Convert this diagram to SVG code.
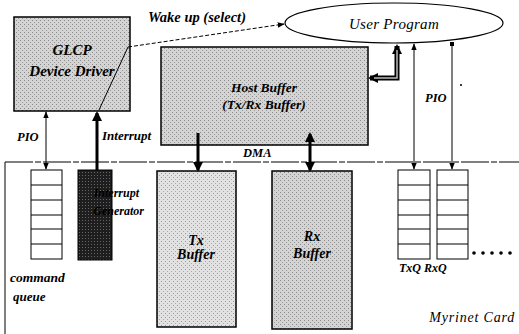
<svg xmlns="http://www.w3.org/2000/svg" width="519" height="334" viewBox="0 0 519 334">
<defs>
<marker id="ah" viewBox="0 0 10 10" refX="9" refY="5" markerWidth="7" markerHeight="7" orient="auto-start-reverse" markerUnits="userSpaceOnUse"><path d="M0,1 L10,5 L0,9 z" fill="#000"/></marker>
<marker id="ahb" viewBox="0 0 10 10" refX="8" refY="5" markerWidth="10" markerHeight="10" orient="auto-start-reverse" markerUnits="userSpaceOnUse"><path d="M0,0 L10,5 L0,10 z" fill="#000"/></marker>
<pattern id="ht" width="4" height="4" patternUnits="userSpaceOnUse"><rect width="4" height="4" fill="#d4d4d4"/><rect x="0" y="0" width="1" height="1" fill="#888"/><rect x="2" y="2" width="1" height="1" fill="#999"/></pattern>
<pattern id="htl" width="4" height="4" patternUnits="userSpaceOnUse"><rect width="4" height="4" fill="#e2e2e2"/><rect x="1" y="1" width="1" height="1" fill="#999"/><rect x="3" y="3" width="1" height="1" fill="#aaa"/></pattern>
<pattern id="htd" width="3" height="3" patternUnits="userSpaceOnUse"><rect width="3" height="3" fill="#1e1e1e"/><rect x="1" y="1" width="1" height="1" fill="#666"/></pattern>
</defs>
<style>
.box{stroke:#000;stroke-width:1.5}
.q{fill:#fff;stroke:#000;stroke-width:1}
.lbl{font-family:"Liberation Serif","Times New Roman",serif;font-weight:bold;font-style:italic;fill:#000}
.it{font-family:"Liberation Serif","Times New Roman",serif;font-style:italic;fill:#000}
.thin{stroke:#000;stroke-width:1;fill:none}
.thick{stroke:#000;stroke-width:3;fill:none}
</style>
<g id="card">
<line x1="5" y1="162" x2="519" y2="162" stroke="#000" stroke-width="1" stroke-dasharray="28 2 6 2"/>
<line x1="5" y1="162" x2="5" y2="334" stroke="#000" stroke-width="1"/>
<text class="it" x="515" y="322" font-size="14" text-anchor="end" letter-spacing="0.8">Myrinet Card</text>
</g>
<g id="driver">
<rect class="box" x="14" y="17" width="116" height="94" fill="url(#ht)"/>
<text class="lbl" x="72" y="55" font-size="15" text-anchor="middle">GLCP</text>
<text class="lbl" x="72" y="76" font-size="15" text-anchor="middle">Device Driver</text>
</g>
<g id="user">
<ellipse cx="394" cy="23" rx="109" ry="20" fill="#fff" stroke="#000" stroke-width="1.2"/>
<text class="it" x="394" y="29" font-size="15" text-anchor="middle" letter-spacing="0.3">User Program</text>
</g>
<g id="host">
<rect class="box" x="161" y="47" width="207" height="98" fill="url(#ht)"/>
<text class="lbl" x="264" y="92" font-size="13.5" text-anchor="middle">Host Buffer</text>
<text class="lbl" x="264" y="109" font-size="13.5" text-anchor="middle">(Tx/Rx Buffer)</text>
</g>
<g id="cmdq">
<rect class="q" x="31" y="170" width="31" height="89"/>
<path class="thin" d="M31,185H62M31,200H62M31,215H62M31,229H62M31,244H62"/>
<text class="lbl" x="10" y="282" font-size="13.5">command</text>
<text class="lbl" x="13" y="301" font-size="13">queue</text>
</g>
<g id="intgen">
<rect x="78" y="170" width="34" height="90" fill="url(#htd)" stroke="#000" stroke-width="1"/>
<text class="lbl" x="139" y="197" font-size="12" text-anchor="end">Interrupt</text>
<text class="lbl" x="144" y="215" font-size="12" text-anchor="end">Generator</text>
</g>
<g id="txbuf">
<rect class="box" x="157" y="171" width="79" height="156" fill="url(#htl)"/>
<text class="lbl" x="196" y="245" font-size="14" text-anchor="middle">Tx</text>
<text class="lbl" x="196" y="259" font-size="14" text-anchor="middle">Buffer</text>
</g>
<g id="rxbuf">
<rect class="box" x="272" y="171" width="80" height="158" fill="url(#ht)"/>
<text class="lbl" x="312" y="241" font-size="14" text-anchor="middle">Rx</text>
<text class="lbl" x="312" y="258" font-size="14" text-anchor="middle">Buffer</text>
</g>
<g id="txq">
<rect class="q" x="398" y="170" width="32" height="89"/>
<path class="thin" d="M398,185H430M398,200H430M398,215H430M398,229H430M398,244H430"/>
<text class="lbl" x="399" y="272" font-size="12">TxQ</text>
</g>
<g id="rxq">
<rect class="q" x="437" y="170" width="31" height="89"/>
<path class="thin" d="M437,185H468M437,200H468M437,215H468M437,229H468M437,244H468"/>
<text class="lbl" x="424" y="272" font-size="12">RxQ</text>
</g>
<g id="dots">
<circle cx="474" cy="253" r="1.8"/><circle cx="483" cy="253" r="1.8"/><circle cx="492" cy="253" r="1.8"/><circle cx="501" cy="253" r="1.8"/><circle cx="510" cy="253" r="1.8"/>
<circle cx="461" cy="85" r="1"/>
</g>
<g id="connectors">
<line class="thin" x1="46" y1="112" x2="46" y2="169" marker-start="url(#ah)" marker-end="url(#ah)"/>
<line class="thick" x1="97" y1="113" x2="97" y2="170" marker-start="url(#ahb)"/>
<polyline class="thin" points="99,110 128,47"/>
<line class="thin" x1="128" y1="47" x2="284" y2="24" stroke-dasharray="4 2" marker-end="url(#ah)"/>
<line class="thick" x1="198" y1="133" x2="198" y2="170" marker-end="url(#ahb)"/>
<line class="thick" x1="310" y1="134" x2="310" y2="170" marker-start="url(#ahb)" marker-end="url(#ahb)"/>
<polyline points="397,46 397,78 370,78" fill="none" stroke="#000" stroke-width="5" marker-start="url(#ahb)" marker-end="url(#ahb)"/>
<polyline points="397,50 397,78 374,78" fill="none" stroke="#bbb" stroke-width="1.5"/>
<line class="thin" x1="414" y1="44" x2="414" y2="169" marker-start="url(#ah)" marker-end="url(#ah)"/>
<line class="thin" x1="452" y1="44" x2="452" y2="169" marker-end="url(#ah)"/>
<rect x="450" y="42" width="4" height="4" fill="#000"/>
<text class="lbl" x="17" y="141" font-size="12.5">PIO</text>
<text class="lbl" x="102" y="140" font-size="13">Interrupt</text>
<text class="lbl" x="243" y="157" font-size="12.5">DMA</text>
<text class="lbl" x="425" y="102" font-size="12.5">PIO</text>
<text class="lbl" x="148" y="22" font-size="14.5">Wake up (select)</text>
</g>
</svg>
